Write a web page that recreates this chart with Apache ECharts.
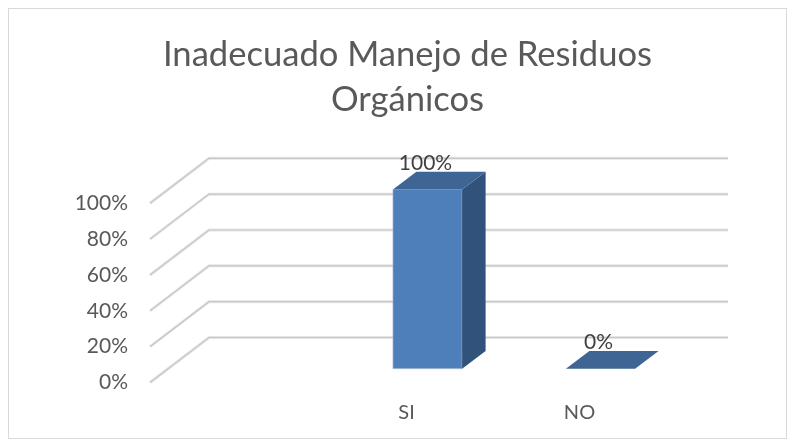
<!DOCTYPE html>
<html>
<head>
<meta charset="utf-8">
<script src="https://cdn.jsdelivr.net/npm/echarts@6/dist/echarts.min.js"></script>
<style>
  html, body { margin: 0; background: #fff; }
  #frame { position: absolute; left: 8px; top: 8px; width: 777px; height: 429px; border: 1px solid #d9d9d9; }
  #chart { position: absolute; left: 0; top: 0; width: 795px; height: 445px; }
</style>
</head>
<body>
<div id="frame"></div>
<div id="chart"></div>
<script>
const titleText = 'Inadecuado Manejo de Residuos\nOrgánicos';
// first category is empty in the original, the bars sit in slots 2 and 3
const categories = ['', 'SI', 'NO'];
const values = [null, 100, 0];
const yTicks = [0, 20, 40, 60, 80, 100];

// fake 3d: wall depth and where the bar sits inside it, in px
const wallDepth = [59, -45];
const barOffset = [18, -13.8];
const barDepth = [23.5, -17.7];

const textColor = '#595959';
const fontName = 'Lato';

const chart = echarts.init(document.getElementById('chart'), null, { renderer: 'canvas' });

const renderGridLine = (params, api) => {
  const sys = params.coordSys;
  const y = api.coord([0, api.value(1)])[1];
  const pts = [
    [sys.x, y],
    [sys.x + wallDepth[0], y + wallDepth[1]],
    [sys.x + sys.width + wallDepth[0], y + wallDepth[1]]
  ];
  return {
    type: 'group',
    children: [
      { type: 'polyline', shape: { points: pts }, style: { fill: 'none', stroke: '#e6e6e6', lineWidth: 3 } },
      { type: 'polyline', shape: { points: pts }, style: { fill: 'none', stroke: '#c6c6c6', lineWidth: 1.2 } }
    ]
  };
};

const renderBar = (params, api) => {
  const v = api.value(1);
  if (isNaN(v)) return;
  const center = api.coord([api.value(0), v]);
  const base = api.coord([api.value(0), 0]);
  const w = api.size([1, 0])[0] * 0.4;
  const x0 = center[0] - w / 2 + barOffset[0];
  const x1 = x0 + w;
  const top = center[1] + barOffset[1];
  const bottom = base[1] + barOffset[1];
  const dx = barDepth[0];
  const dy = barDepth[1];
  const children = [];
  if (bottom - top > 0) {
    children.push({
      type: 'rect',
      shape: { x: x0, y: top, width: w, height: bottom - top },
      style: { fill: '#4e7fbb', stroke: '#b9c6d6', lineWidth: 0.6 }
    });
    children.push({
      type: 'polygon',
      shape: { points: [[x1, top], [x1 + dx, top + dy], [x1 + dx, bottom + dy], [x1, bottom]] },
      style: { fill: '#30527b' }
    });
  }
  children.push({
    type: 'polygon',
    shape: { points: [[x0, top], [x0 + dx, top + dy], [x1 + dx, top + dy], [x1, top]] },
    style: { fill: '#3e6593' }
  });
  children.push({
    type: 'text',
    style: {
      text: v + '%',
      x: x0 + w / 2 - 2,
      y: top - 26,
      textAlign: 'center',
      textVerticalAlign: 'middle',
      fontFamily: fontName,
      fontSize: 21,
      fill: '#404040'
    }
  });
  return { type: 'group', children };
};

chart.setOption({
  backgroundColor: 'transparent',
  animation: false,
  title: {
    text: titleText,
    left: 402.5,
    textAlign: 'center',
    top: 27,
    textStyle: {
      color: textColor,
      fontFamily: fontName,
      fontWeight: 'normal',
      fontSize: 34.6,
      lineHeight: 45
    }
  },
  grid: { left: 150, top: 203.3, width: 519, height: 179.2 },
  xAxis: {
    type: 'category',
    data: categories,
    axisLine: { show: false },
    axisTick: { show: false },
    axisLabel: { color: textColor, fontFamily: fontName, fontSize: 20, margin: 20, padding: [0, 6, 0, 0] }
  },
  yAxis: {
    type: 'value',
    min: 0,
    max: 100,
    interval: 20,
    splitLine: { show: false },
    axisLine: { show: false },
    axisTick: { show: false },
    axisLabel: { formatter: '{value}%', color: textColor, fontFamily: fontName, fontSize: 21, margin: 22, padding: [12, 0, 0, 0] }
  },
  series: [
    {
      name: 'grid',
      type: 'custom',
      silent: true,
      z: 1,
      clip: false,
      renderItem: renderGridLine,
      encode: { x: 0, y: 1 },
      data: yTicks.map(t => [0, t])
    },
    {
      name: 'Inadecuado Manejo de Residuos Orgánicos',
      type: 'custom',
      z: 2,
      clip: false,
      renderItem: renderBar,
      encode: { x: 0, y: 1 },
      data: values.map((v, i) => [i, v === null ? '-' : v])
    }
  ]
});
</script>
</body>
</html>
